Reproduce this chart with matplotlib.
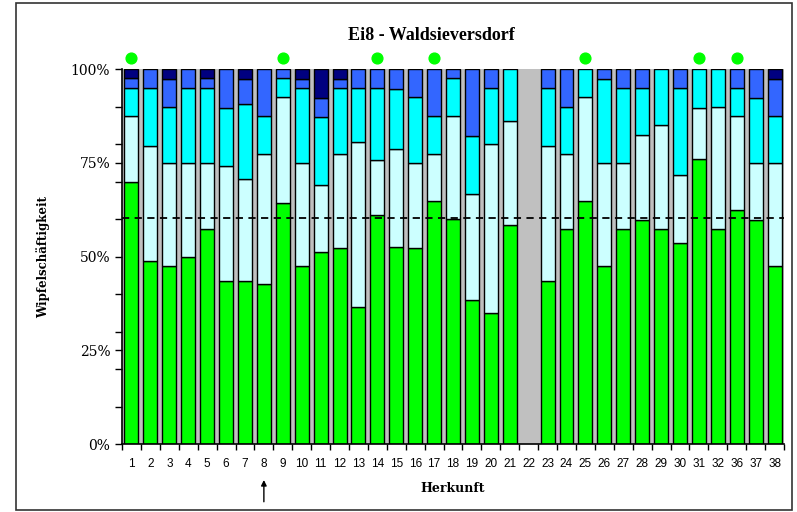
import numpy as np
import matplotlib
matplotlib.use("Agg")
import matplotlib.pyplot as plt
from matplotlib.patches import Rectangle

# origins (Herkunft) on the x axis
herkunft = ["1", "2", "3", "4", "5", "6", "7", "8", "9", "10", "11", "12", "13", "14", "15",
            "16", "17", "18", "19", "20", "21", "22", "23", "24", "25", "26", "27", "28", "29",
            "30", "31", "32", "36", "37", "38"]

# stacked shares in percent, bottom to top
green = [70.0, 48.7, 47.6, 50.0, 57.3, 43.6, 43.6, 42.7, 64.2, 47.6, 51.2, 52.2, 36.5, 61.0, 52.5,
         52.2, 64.8, 60.0, 38.3, 35.0, 58.4, 0, 43.6, 57.3, 64.7, 47.5, 57.3, 59.7, 57.3,
         53.7, 76.0, 57.3, 62.3, 59.7, 47.6]
light = [17.5, 30.8, 27.4, 25.0, 17.7, 30.6, 27.1, 34.7, 28.3, 27.4, 18.0, 25.2, 44.1, 14.7, 26.3,
         22.8, 12.6, 27.5, 28.4, 44.9, 27.7, 0, 35.9, 20.0, 27.8, 27.5, 17.7, 22.7, 27.7,
         18.0, 13.7, 32.7, 25.2, 15.3, 27.4]
cyan = [7.5, 15.5, 15.0, 20.0, 20.0, 15.5, 19.9, 10.1, 5.2, 20.0, 17.9, 17.6, 14.4, 19.3, 15.9,
        17.5, 10.1, 10.0, 15.4, 15.1, 13.9, 0, 15.5, 12.7, 7.5, 22.4, 20.0, 12.6, 15.0,
        23.3, 10.3, 10.0, 7.5, 17.4, 12.4]
blue = [2.5, 5.0, 7.4, 5.0, 2.5, 10.3, 6.8, 12.5, 2.3, 2.4, 5.2, 2.4, 5.0, 5.0, 5.3,
        7.5, 12.5, 2.5, 17.9, 5.0, 0, 0, 5.0, 10.0, 0, 2.6, 5.0, 5.0, 0,
        5.0, 0, 0, 5.0, 7.6, 10.0]
navy = [2.5, 0, 2.6, 0, 2.5, 0, 2.6, 0, 0, 2.6, 7.7, 2.6, 0, 0, 0,
        0, 0, 0, 0, 0, 0, 0, 0, 0, 0, 0, 0, 0, 0,
        0, 0, 0, 0, 0, 2.6]

# marked origins (green dots above bars)
marked = ["1", "9", "14", "17", "25", "31", "36"]
mean_line = 60.3

layers = [green, light, cyan, blue, navy]
colors = ["#00ff00", "#ccffff", "#00ffff", "#3366ff", "#000080"]

fig = plt.figure(figsize=(7.97, 5.12), dpi=100)
ax = fig.add_axes([0.1531, 0.1328, 0.8306, 0.7324])
ax.set_facecolor("#c0c0c0")

x = np.arange(len(herkunft))
bottom = np.zeros(len(herkunft))
for vals, col in zip(layers, colors):
    vals = np.array(vals)
    mask = vals > 0
    ax.bar(x[mask], vals[mask], bottom=bottom[mask], width=0.74, color=col,
           edgecolor="black", linewidth=1.0, zorder=2)
    bottom += vals

ax.axhline(mean_line, color="black", linestyle=(0, (4, 3)), linewidth=1.3, zorder=3)

ax.set_xlim(-0.5, len(herkunft) - 0.5)
ax.set_ylim(0, 100)

# x ticks sit between the bars, labels centred under them
ax.set_xticks(np.arange(len(herkunft) + 1) - 0.5)
ax.set_xticklabels([])
ax.set_xticks(x, minor=True)
ax.set_xticklabels(herkunft, minor=True, fontsize=8.5, family="Liberation Sans")
ax.tick_params(axis="x", which="major", length=4, direction="out", width=1)
ax.tick_params(axis="x", which="minor", length=0, pad=10)

ax.set_yticks([0, 25, 50, 75, 100])
ax.set_yticklabels(["0%", "25%", "50%", "75%", "100%"], fontsize=10, family="DejaVu Serif")
ax.set_yticks(np.arange(0, 101, 10), minor=True)
ax.tick_params(axis="y", which="both", length=5, direction="out", width=1)

for side in ["top", "right"]:
    ax.spines[side].set_visible(False)
ax.spines["left"].set_linewidth(1.2)
ax.spines["bottom"].set_linewidth(1.2)

ax.set_xlabel("Herkunft", fontsize=9, fontweight="bold", family="DejaVu Serif", labelpad=9)
ax.set_ylabel("Wipfelschäftigkeit", fontsize=8.5, fontweight="bold", family="DejaVu Serif",
              labelpad=15)

# green dots above marked origins
mx = [herkunft.index(m) for m in marked]
ax.scatter(mx, [103.0] * len(mx), s=60, color="#00ff00", clip_on=False, zorder=4)

# arrow below origin 8
ax.annotate("", xy=(herkunft.index("8"), -9.6), xytext=(herkunft.index("8"), -15.4),
            xycoords="data", annotation_clip=False,
            arrowprops=dict(arrowstyle="-|>", color="black", lw=1.0, mutation_scale=8,
                            shrinkA=0, shrinkB=0))

fig.text(0.541, 0.93, "Ei8 - Waldsieversdorf", ha="center", va="center", fontsize=13,
         fontweight="bold", family="Liberation Serif")

fig.patches.append(Rectangle((0.020, 0.004), 0.9737, 0.99, transform=fig.transFigure,
                             fill=False, edgecolor="#333333", linewidth=1.2))

fig.savefig("out.png", dpi=100)
